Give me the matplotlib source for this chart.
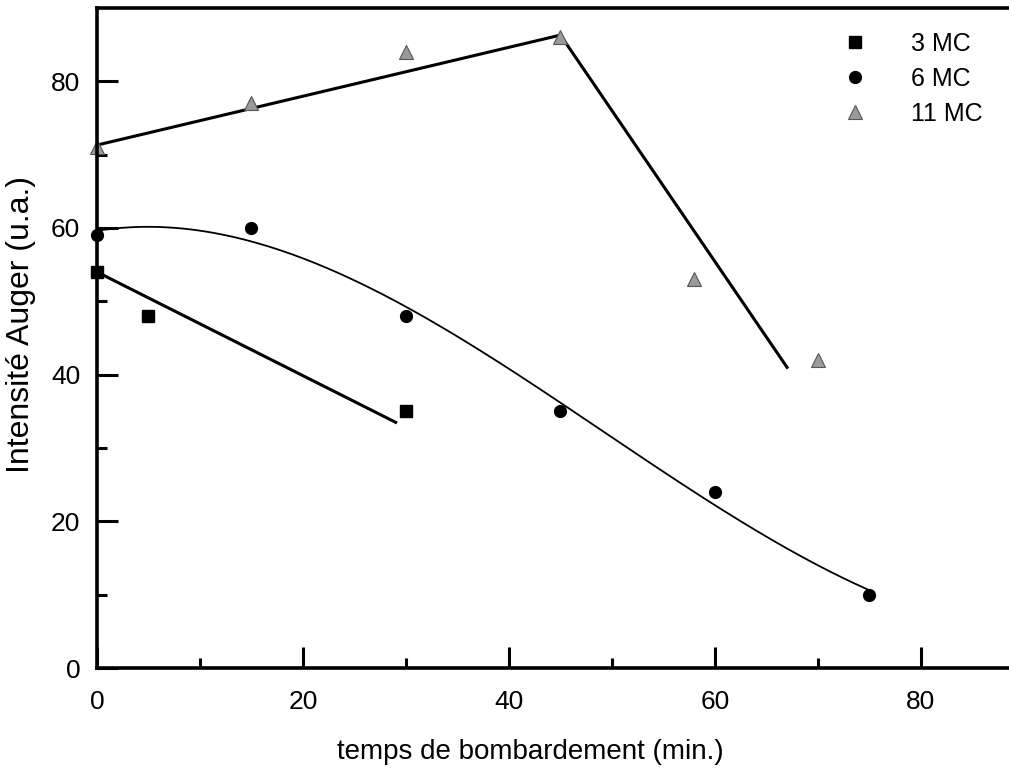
import numpy as np
import matplotlib.pyplot as plt

plt.rcParams['font.family'] = ['Liberation Sans', 'DejaVu Sans']

# measured points
t_3mc = [0, 5, 30]
i_3mc = [54, 48, 35]
t_6mc = [0, 15, 30, 45, 60, 75]
i_6mc = [59, 60, 48, 35, 24, 10]
t_11mc = [0, 15, 30, 45, 58, 70]
i_11mc = [71, 77, 84, 86, 53, 42]

# trend lines
fit_3mc_x = [0, 29]
fit_3mc_y = [54, 33.5]
fit_11mc_x = [0, 45, 67]
fit_11mc_y = [71.3, 86.3, 41]

fig = plt.figure(figsize=(10.09, 7.72), dpi=100)
ax = fig.add_axes([0.0961, 0.1347, 0.9187, 0.855])

ax.plot(fit_3mc_x, fit_3mc_y, color='black', lw=2.2)
ax.plot(fit_11mc_x, fit_11mc_y, color='black', lw=2.2)

# polynomial fit for 6 MC
coef = np.polyfit(t_6mc, i_6mc, 3)
xs = np.linspace(0, 75, 200)
ax.plot(xs, np.polyval(coef, xs), color='black', lw=1.3)

ax.plot(t_3mc, i_3mc, 's', color='black', ms=9, label='3 MC', clip_on=False)
ax.plot(t_6mc, i_6mc, 'o', color='black', ms=8.5, label='6 MC', clip_on=False)
ax.plot(t_11mc, i_11mc, '^', color='#9a9a9a', mec='#555555', mew=0.8, ms=9.5,
        label='11 MC', clip_on=False)

ax.set_xlim(0, 90)
ax.set_ylim(0, 90)
ax.set_xticks([0, 20, 40, 60, 80])
ax.set_xticks([10, 30, 50, 70], minor=True)
ax.set_yticks([0, 20, 40, 60, 80])
ax.set_yticks([10, 30, 50, 70], minor=True)
ax.tick_params(which='major', direction='in', length=15, width=2.2, labelsize=19)
ax.tick_params(axis='x', which='major', pad=16)
ax.tick_params(axis='y', which='major', pad=12)
ax.tick_params(which='minor', direction='in', length=7, width=2.2)
ax.tick_params(right=False, top=False, which='both')

for s in ['left', 'bottom', 'top']:
    ax.spines[s].set_linewidth(2.6)
ax.spines['right'].set_visible(False)

ax.set_xlabel('temps de bombardement (min.)', fontsize=20)
ax.xaxis.set_label_coords(0.467, -0.108)
ax.set_ylabel('Intensité Auger (u.a.)', fontsize=23)
ax.yaxis.set_label_coords(-0.066, 0.52)

ax.legend(loc='upper left', bbox_to_anchor=(0.797, 0.964), frameon=False, fontsize=18,
          borderpad=0, borderaxespad=0, handletextpad=1.5, labelspacing=0.45,
          handlelength=1.5)

fig.savefig('out.png', dpi=100)
